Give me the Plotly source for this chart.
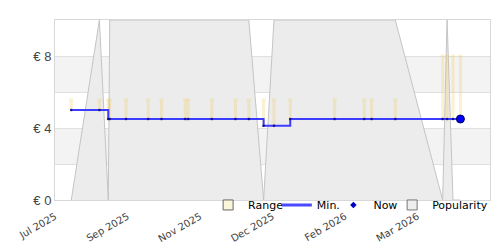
import plotly.graph_objects as go

# ---- data ----
dates = ["2025-08-08", "2025-08-27", "2025-09-02", "2025-09-03", "2025-09-14",
         "2025-09-29", "2025-10-08", "2025-10-24", "2025-10-26", "2025-11-11",
         "2025-11-27", "2025-12-06", "2025-12-16", "2025-12-23", "2026-01-03",
         "2026-02-02", "2026-02-22", "2026-02-27", "2026-03-15", "2026-04-16",
         "2026-04-19", "2026-04-23", "2026-04-28"]
range_vals = [0, 10, 0, 10, 10, 10, 10, 10, 10, 10, 10, 10, 0, 10, 10, 10, 10,
              10, 10, 0, 10, 0, 0]
min_vals = [5.0, 5.0, 4.5, 4.5, 4.5, 4.5, 4.5, 4.5, 4.5, 4.5, 4.5, 4.5, 4.13,
            4.13, 4.5, 4.5, 4.5, 4.5, 4.5, 4.5, 4.5, 4.5, 4.5]
pop_top = [5.55, 5.55, 5.55, 5.55, 5.55, 5.55, 5.55, 5.55, 5.55, 5.55, 5.55,
           5.55, 5.55, 5.55, 5.55, 5.55, 5.55, 5.55, 5.55, 8.0, 8.0, 8.0, 8.0]
now_date = ["2026-04-28"]
now_val = [4.5]

tick_dates = ["2025-07-28", "2025-09-15", "2025-11-03", "2025-12-22",
              "2026-02-09", "2026-03-30"]
tick_text = ["Jul 2025", "Sep 2025", "Nov 2025", "Dec 2025", "Feb 2026", "Mar 2026"]
x_range = ["2025-07-28", "2026-05-18"]
y_tickvals = [0, 2, 4, 6, 8, 10]
y_ticktext = ["€ 0", "", "€ 4", "", "€ 8", ""]
legend_names = ["Range", "Min.", "Now", "Popularity"]

fig = go.Figure()

# Range (filled area)
fig.add_trace(go.Scatter(
    x=dates, y=range_vals, mode="lines", fill="tozeroy",
    fillcolor="#ececec", line=dict(color="#c4c4c4", width=1),
    showlegend=False, hoverinfo="skip"))

# Popularity bars (drawn as one-sided error bars rising from the Min. line)
bar_h = [t - m for t, m in zip(pop_top, min_vals)]
fig.add_trace(go.Scatter(
    x=dates, y=min_vals, mode="markers",
    marker=dict(size=1, opacity=0),
    error_y=dict(type="data", symmetric=False, array=bar_h, arrayminus=[0] * len(bar_h),
                 color="rgba(240,200,70,0.25)", thickness=3, width=2),
    showlegend=False, hoverinfo="skip"))

# Min line
fig.add_trace(go.Scatter(
    x=dates, y=min_vals, mode="lines+markers", line=dict(color="#3c3cff", width=2, shape="hv"),
    marker=dict(size=2.5, color="#10109a"),
    showlegend=False, hoverinfo="skip"))

# Now marker
fig.add_trace(go.Scatter(
    x=now_date, y=now_val, mode="markers",
    marker=dict(size=8, color="#0000ff", line=dict(color="#000050", width=1)),
    showlegend=False, hoverinfo="skip"))

# legend entries (each in its own legend so they can be placed individually)
fig.add_trace(go.Scatter(x=[None], y=[None], mode="markers", name=legend_names[0], legend="legend",
    marker=dict(symbol="square", size=10, color="#fbf5dc", line=dict(color="#666666", width=1))))
fig.add_trace(go.Scatter(x=[None], y=[None], mode="lines", name=legend_names[1], legend="legend2",
    line=dict(color="#4a4aff", width=3)))
fig.add_trace(go.Scatter(x=[None], y=[None], mode="markers", name=legend_names[2], legend="legend3",
    marker=dict(symbol="diamond", size=5, color="#0000cc")))
fig.add_trace(go.Scatter(x=[None], y=[None], mode="markers", name=legend_names[3], legend="legend4",
    marker=dict(symbol="square", size=10, color="#eeeeee", line=dict(color="#777777", width=1))))

# background bands
for y0, y1 in [(2, 4), (6, 8)]:
    fig.add_shape(type="rect", xref="paper", x0=0, x1=1, yref="y", y0=y0, y1=y1,
                  fillcolor="#f3f3f3", line=dict(width=0), layer="below")

leg_common = dict(orientation="h", xanchor="left", y=0.053, yanchor="top",
                  bgcolor="rgba(0,0,0,0)", font=dict(family="DejaVu Sans", size=11, color="#000"),
                  itemwidth=30)

fig.update_layout(
    width=500, height=250,
    margin=dict(l=55, r=10, t=20, b=50, autoexpand=False),
    paper_bgcolor="white", plot_bgcolor="white",
    font=dict(family="DejaVu Sans", size=11, color="#000"),
    legend=dict(x=0.352, **leg_common),
    legend2=dict(x=0.510, **leg_common),
    legend3=dict(x=0.640, **leg_common),
    legend4=dict(x=0.775, **leg_common),
    xaxis=dict(type="date", range=x_range, tickvals=tick_dates, ticktext=tick_text,
               tickangle=-30, tickfont=dict(family="DejaVu Sans", size=10, color="#444"),
               ticklabelstandoff=6, automargin=False,
               showgrid=False, showline=True, linecolor="#d8d8d8", mirror=True,
               ticks="", zeroline=False),
    yaxis=dict(range=[0, 10], tickvals=y_tickvals, ticktext=y_ticktext,
               tickfont=dict(family="Liberation Sans", size=13, color="#444"),
               showgrid=True, gridcolor="#e0e0e0", gridwidth=1, automargin=False,
               showline=True, linecolor="#d8d8d8", mirror=True,
               ticks="", zeroline=False, fixedrange=True),
)

fig.write_html("out.html")
